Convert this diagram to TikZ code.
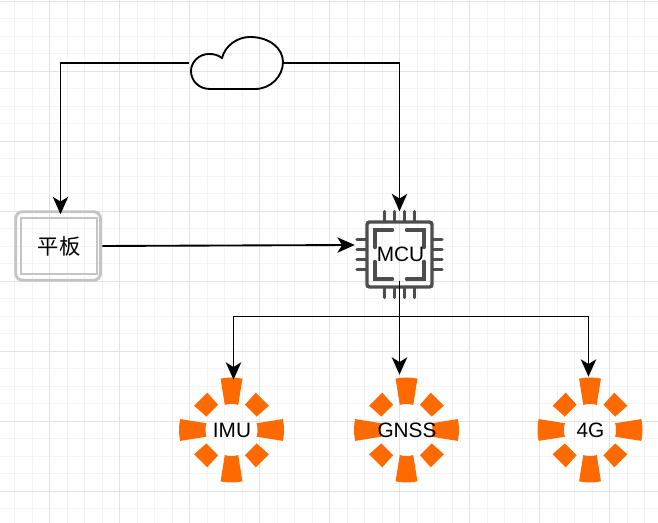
\documentclass[tikz,border=0pt]{standalone}
\usepackage{fontspec}
\setmainfont{Liberation Sans}
\newfontfamily\cjk{Noto Sans CJK SC}
\usetikzlibrary{arrows.meta,
                positioning}
\definecolor{gridminor}{HTML}{F3F3F3}
\definecolor{gridmajor}{HTML}{E3E3E3}
\definecolor{chipgray}{HTML}{4D4D4D}
\definecolor{padgray}{HTML}{C4C4C4}
\definecolor{ringorange}{HTML}{FF6A00}
\tikzset{
    box/.style = {inner sep=0pt, font=\fontsize{15.6}{18}\selectfont},
    sensor/.style = {box, minimum width=79.5pt, minimum height=79.5pt},
    link/.style = {line width=1.4pt, -{Stealth[length=13pt, width=11.5pt, inset=3.5pt]}},
    wire/.style = {line width=1.4pt},
    % sunburst round one sensor
    ring/.pic = {
        \foreach \a in {0,90,180,270} {
            \fill[ringorange] (\a-15:26) -- (\a-12:52.5) arc[start angle=\a-12, end angle=\a+12, radius=52.5] -- (\a+15:26) arc[start angle=\a+15, end angle=\a-15, radius=26] -- cycle;
        }
        \foreach \a in {45,135,225,315} {
            \fill[ringorange] (\a-17:28.5) -- (\a-12:44.5) -- (\a+12:44.5) -- (\a+17:28.5) -- cycle;
        }
    }
}
\begin{document}
\begin{tikzpicture}[x=0.75pt, y=0.75pt]

\useasboundingbox (0,0) rectangle (658,523);

% grid
\begin{scope}
    \foreach \x in {14.5,32,...,650} \draw[gridminor, line width=0.75pt] (\x,0) -- (\x,523);
    \foreach \y in {14.2,31.7,...,523} \draw[gridminor, line width=0.75pt] (0,\y) -- (658,\y);
    \foreach \x in {49.5,119.5,...,658} \draw[gridmajor, line width=0.75pt] (\x,0) -- (\x,523);
    \foreach \y in {31.7,101.7,...,523} \draw[gridmajor, line width=0.75pt] (0,\y) -- (658,\y);
\end{scope}

% sensors
\pic at (231.5,93) {ring};
\pic at (406.5,93) {ring};
\pic at (590,93) {ring};

\node[sensor] (imu) at (232,93) {IMU};
\node[sensor] (gnss) at (407,93) {GNSS};
\node[sensor] (lte) at (590.5,93) {4G};

% tablet
\node[box, font=\fontsize{16}{18}\selectfont, minimum width=64.5pt, minimum height=52.5pt] (tablet) at (59,277) {{\cjk 平板}};
\draw[padgray, line width=2.2pt, rounded corners=5pt] ([shift={(0,1)}]tablet.south west) rectangle ([shift={(-1.8,-1)}]tablet.north east);
\draw[padgray, line width=1.4pt] ([shift={(5,7)}]tablet.south west) rectangle ([shift={(-5.5,-7)}]tablet.north east);

% chip
\node[box, minimum width=63.75pt, minimum height=64.5pt] (mcu) at (399.5,268.5) {};
\begin{scope}[chipgray, line width=2.6pt, line cap=round]
    \draw[rounded corners=2pt] ([shift={(-32.5,-32.5)}]mcu.center) rectangle ([shift={(32.5,32.5)}]mcu.center);
    \foreach \d in {-15,-5,5,15} {
        \draw ([shift={(\d,33)}]mcu.center) -- ([shift={(\d,43)}]mcu.center);
        \draw ([shift={(\d,-33)}]mcu.center) -- ([shift={(\d,-43)}]mcu.center);
        \draw ([shift={(-33,\d)}]mcu.center) -- ([shift={(-42.5,\d)}]mcu.center);
        \draw ([shift={(33,\d)}]mcu.center) -- ([shift={(42.5,\d)}]mcu.center);
    }
    \foreach \sx/\sy in {-1/-1,-1/1,1/-1,1/1} {
        \draw ([shift={(\sx*7,\sy*24.5)}]mcu.center) -- ([shift={(\sx*24.5,\sy*24.5)}]mcu.center) -- ([shift={(\sx*24.5,\sy*7)}]mcu.center);
    }
\end{scope}
\node[box] (mculabel) at ([shift={(1,0)}]mcu.center) {MCU};

% cloud
\node[box, minimum width=69pt, minimum height=39pt] (cloud) at (237,460) {};
\draw[line width=1.4pt] ([shift={(-27,-26)}]cloud.center) -- ([shift={(18,-26)}]cloud.center)
    .. controls ([shift={(34,-26)}]cloud.center) and ([shift={(46,-13)}]cloud.center) .. ([shift={(46,1)}]cloud.center)
    .. controls ([shift={(46,15)}]cloud.center) and ([shift={(32,26)}]cloud.center) .. ([shift={(13,26)}]cloud.center)
    .. controls ([shift={(0,26)}]cloud.center) and ([shift={(-12,17)}]cloud.center) .. ([shift={(-15,5)}]cloud.center)
    .. controls ([shift={(-19,8)}]cloud.center) and ([shift={(-23,9)}]cloud.center) .. ([shift={(-28,9)}]cloud.center)
    .. controls ([shift={(-38,9)}]cloud.center) and ([shift={(-46,1)}]cloud.center) .. ([shift={(-46,-8)}]cloud.center)
    .. controls ([shift={(-46,-18)}]cloud.center) and ([shift={(-38,-26)}]cloud.center) .. ([shift={(-27,-26)}]cloud.center) -- cycle;

% connectors
\coordinate (split) at (399.5,206.5);

\draw[link] ([shift={(-2,0)}]cloud.west) -| ([shift={(1.5,-3.5)}]tablet.north);
\draw[link] (cloud.east) -| (mcu.north);
\draw[link] (tablet.east) -- ([shift={(-2,9.5)}]mcu.west);
\draw[wire] ([shift={(0,17)}]mcu.south) -- (split);
\draw[link] (split) -| ([shift={(1.5,-3)}]imu.north);
\draw[link] (split) -- ([shift={(-7.5,2)}]gnss.north);
\draw[link] (split) -| ([shift={(-2,0)}]lte.north);

\end{tikzpicture}
\end{document}
